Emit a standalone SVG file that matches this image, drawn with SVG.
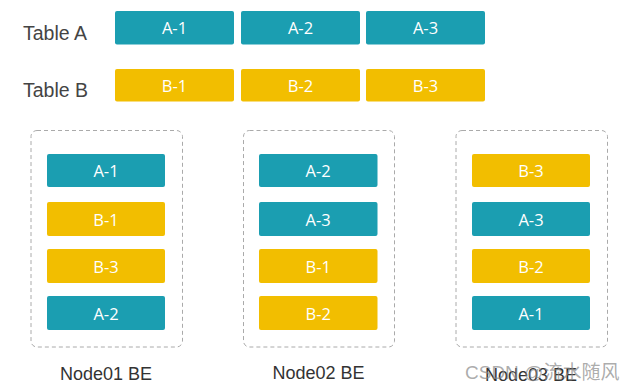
<svg xmlns="http://www.w3.org/2000/svg" width="631" height="390" viewBox="0 0 631 390">
<style>
.a{fill:#1b9eb1}
.b{fill:#f2be00}
.t{font-family:"Open Sans","Noto Sans",sans-serif;font-size:16.5px;fill:#fff;text-anchor:middle;dominant-baseline:central}
.lbl{font-family:"Liberation Sans",Arial,sans-serif;font-size:19.5px;fill:#444}
.nl{font-family:"Liberation Sans",Arial,sans-serif;font-size:18px;fill:#333;text-anchor:middle}
.c{fill:none;stroke:#aaa;stroke-width:1;stroke-dasharray:4 3}
</style>
<rect width="631" height="390" fill="#fff"/>
<g id="tableA">
<text class="lbl" x="23" y="40">Table A</text>
<rect class="a" x="115" y="11" width="119" height="33.5" rx="2"/><text class="t" x="174.5" y="27.5">A-1</text>
<rect class="a" x="241" y="11" width="119" height="33.5" rx="2"/><text class="t" x="300.5" y="27.5">A-2</text>
<rect class="a" x="366" y="11" width="119" height="33.5" rx="2"/><text class="t" x="425.5" y="27.5">A-3</text>
</g>
<g id="tableB">
<text class="lbl" x="23" y="97">Table B</text>
<rect class="b" x="115" y="69" width="119" height="32.5" rx="2"/><text class="t" x="174.5" y="85">B-1</text>
<rect class="b" x="241" y="69" width="119" height="32.5" rx="2"/><text class="t" x="300.5" y="85">B-2</text>
<rect class="b" x="366" y="69" width="119" height="32.5" rx="2"/><text class="t" x="425.5" y="85">B-3</text>
</g>
<g id="node01">
<rect class="c" x="31" y="130.5" width="151.5" height="216.5" rx="6"/>
<rect class="a" x="47" y="154" width="118" height="33" rx="2"/><text class="t" x="106" y="170.5">A-1</text>
<rect class="b" x="47" y="202" width="118" height="34" rx="2"/><text class="t" x="106" y="219">B-1</text>
<rect class="b" x="47" y="249" width="118" height="34" rx="2"/><text class="t" x="106" y="266">B-3</text>
<rect class="a" x="47" y="296" width="118" height="34" rx="2"/><text class="t" x="106" y="313">A-2</text>
<text class="nl" x="106" y="380">Node01 BE</text>
</g>
<g id="node02">
<rect class="c" x="243.5" y="130.5" width="151" height="216.5" rx="6"/>
<rect class="a" x="259" y="154" width="118.5" height="33" rx="2"/><text class="t" x="318.2" y="170.5">A-2</text>
<rect class="a" x="259" y="202" width="118.5" height="34" rx="2"/><text class="t" x="318.2" y="219">A-3</text>
<rect class="b" x="259" y="249" width="118.5" height="34" rx="2"/><text class="t" x="318.2" y="266">B-1</text>
<rect class="b" x="259" y="296" width="118.5" height="34" rx="2"/><text class="t" x="318.2" y="313">B-2</text>
<text class="nl" x="318.5" y="379">Node02 BE</text>
</g>
<g id="node03">
<rect class="c" x="456" y="130.5" width="151.5" height="216.5" rx="6"/>
<rect class="b" x="472" y="154" width="118" height="33" rx="2"/><text class="t" x="531" y="170.5">B-3</text>
<rect class="a" x="472" y="202" width="118" height="34" rx="2"/><text class="t" x="531" y="219">A-3</text>
<rect class="b" x="472" y="249" width="118" height="34" rx="2"/><text class="t" x="531" y="266">B-2</text>
<rect class="a" x="472" y="296" width="118" height="34" rx="2"/><text class="t" x="531" y="313">A-1</text>
<text class="nl" x="531" y="381">Node03 BE</text>
</g>
<g id="connectors"></g>
<text x="465" y="379" font-family="'Liberation Sans','Noto Sans CJK SC',sans-serif" font-size="19" fill="#888" fill-opacity="0.7">CSDN @流水随风</text>
</svg>
